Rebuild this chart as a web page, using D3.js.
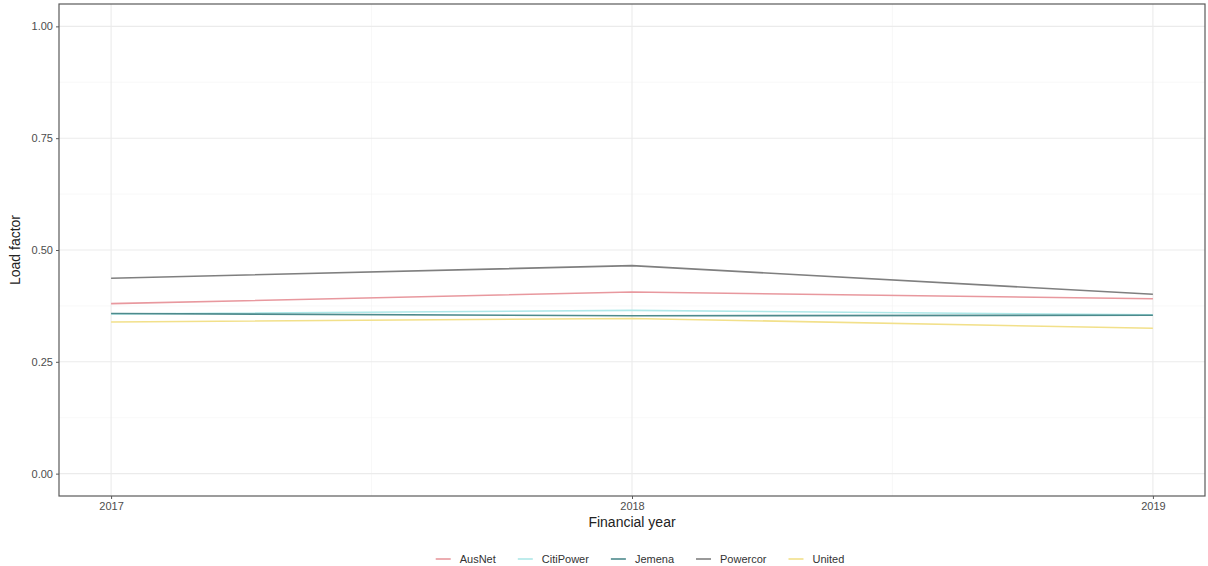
<!DOCTYPE html>
<html>
<head>
<meta charset="utf-8">
<script src="https://cdn.jsdelivr.net/npm/d3@7"></script>
<style>
  body { margin: 0; background: #fff; }
  text { font-family: "Liberation Sans", Arial, sans-serif; }
</style>
</head>
<body>
<div id="root"></div>
<script>
const years = [2017, 2018, 2019];
const networks = ["AusNet", "CitiPower", "Jemena", "Powercor", "United"];
const ausnet = [0.380, 0.406, 0.391];
const citipower = [0.357, 0.365, 0.355];
const jemena = [0.358, 0.353, 0.354];
const powercor = [0.437, 0.465, 0.401];
const united = [0.339, 0.347, 0.325];
const yTicks = [0, 0.25, 0.5, 0.75, 1];

const colours = ["#e8989e", "#aee8e8", "#4d8a8c", "#7f7f7f", "#f2e08a"];
const seriesValues = [ausnet, citipower, jemena, powercor, united];

const width = 1208, height = 566;
const margins = { top: 4, right: 3, bottom: 70, left: 59 };
const pw = width - margins.left - margins.right;
const ph = height - margins.top - margins.bottom;

const svg = d3.select("#root").append("svg")
  .attr("width", width)
  .attr("height", height)
  .attr("viewBox", [0, 0, width, height]);

// ggplot style 5% expansion
const x = d3.scaleLinear().domain([2017 - 0.1, 2019 + 0.1]).range([0, pw]);
const y = d3.scaleLinear().domain([-0.05, 1.05]).range([ph, 0]);

const g = svg.append("g").attr("transform", `translate(${margins.left},${margins.top})`);

// minor grid
const minorY = [0.125, 0.375, 0.625, 0.875];
const minorX = [2017.5, 2018.5];
g.selectAll(".minor-y").data(minorY).join("line")
  .attr("x1", 0).attr("x2", pw)
  .attr("y1", d => y(d)).attr("y2", d => y(d))
  .attr("stroke", "#f4f4f4").attr("stroke-width", 0.6);
g.selectAll(".minor-x").data(minorX).join("line")
  .attr("y1", 0).attr("y2", ph)
  .attr("x1", d => x(d)).attr("x2", d => x(d))
  .attr("stroke", "#f4f4f4").attr("stroke-width", 0.6);

// major grid
g.selectAll(".major-y").data(yTicks).join("line")
  .attr("x1", 0).attr("x2", pw)
  .attr("y1", d => y(d)).attr("y2", d => y(d))
  .attr("stroke", "#ebebeb").attr("stroke-width", 1.1);
g.selectAll(".major-x").data(years).join("line")
  .attr("y1", 0).attr("y2", ph)
  .attr("x1", d => x(d)).attr("x2", d => x(d))
  .attr("stroke", "#ebebeb").attr("stroke-width", 1.1);

// lines
const line = d3.line().x((d, i) => x(years[i])).y(d => y(d));
g.selectAll(".series").data(seriesValues).join("path")
  .attr("fill", "none")
  .attr("stroke", (d, i) => colours[i])
  .attr("stroke-width", 1.6)
  .attr("d", line);

// panel border
g.append("rect")
  .attr("width", pw).attr("height", ph)
  .attr("fill", "none").attr("stroke", "#5a5a5a").attr("stroke-width", 1.2);

// axes
const xAxis = d3.axisBottom(x).tickValues(years).tickFormat(d3.format("d")).tickSize(3).tickPadding(3);
const yAxis = d3.axisLeft(y).tickValues(yTicks).tickFormat(d3.format(".2f")).tickSize(3).tickPadding(3);

const gx = g.append("g").attr("transform", `translate(0,${ph})`).call(xAxis);
const gy = g.append("g").call(yAxis);
[gx, gy].forEach(a => {
  a.select(".domain").remove();
  a.selectAll(".tick line").attr("stroke", "#5a5a5a");
  a.selectAll(".tick text").attr("fill", "#4d4d4d").style("font-size", "11px");
});

svg.append("text")
  .attr("x", margins.left + pw / 2).attr("y", 527)
  .attr("text-anchor", "middle").attr("fill", "#222")
  .style("font-size", "14px").text("Financial year");

svg.append("text")
  .attr("transform", `translate(20,${margins.top + ph / 2}) rotate(-90)`)
  .attr("text-anchor", "middle").attr("fill", "#222")
  .style("font-size", "14px").text("Load factor");

// legend
const legend = svg.append("g");
const keyW = 15, gapKey = 9, gapItem = 22;
const items = legend.selectAll("g").data(networks).join("g");
items.append("line")
  .attr("x1", 0).attr("x2", keyW).attr("y1", 0).attr("y2", 0)
  .attr("stroke", (d, i) => colours[i]).attr("stroke-width", 1.6);
items.append("text")
  .attr("x", keyW + gapKey).attr("y", 4)
  .attr("fill", "#333").style("font-size", "11px")
  .text(d => d);
const widths = [];
items.each(function () {
  const w = this.querySelector("text").getComputedTextLength();
  widths.push(keyW + gapKey + w);
});
const total = d3.sum(widths) + gapItem * (networks.length - 1);
let offset = 0;
items.attr("transform", (d, i) => {
  const t = `translate(${offset},0)`;
  offset += widths[i] + gapItem;
  return t;
});
legend.attr("transform", `translate(${640 - total / 2},559)`);
</script>
</body>
</html>
